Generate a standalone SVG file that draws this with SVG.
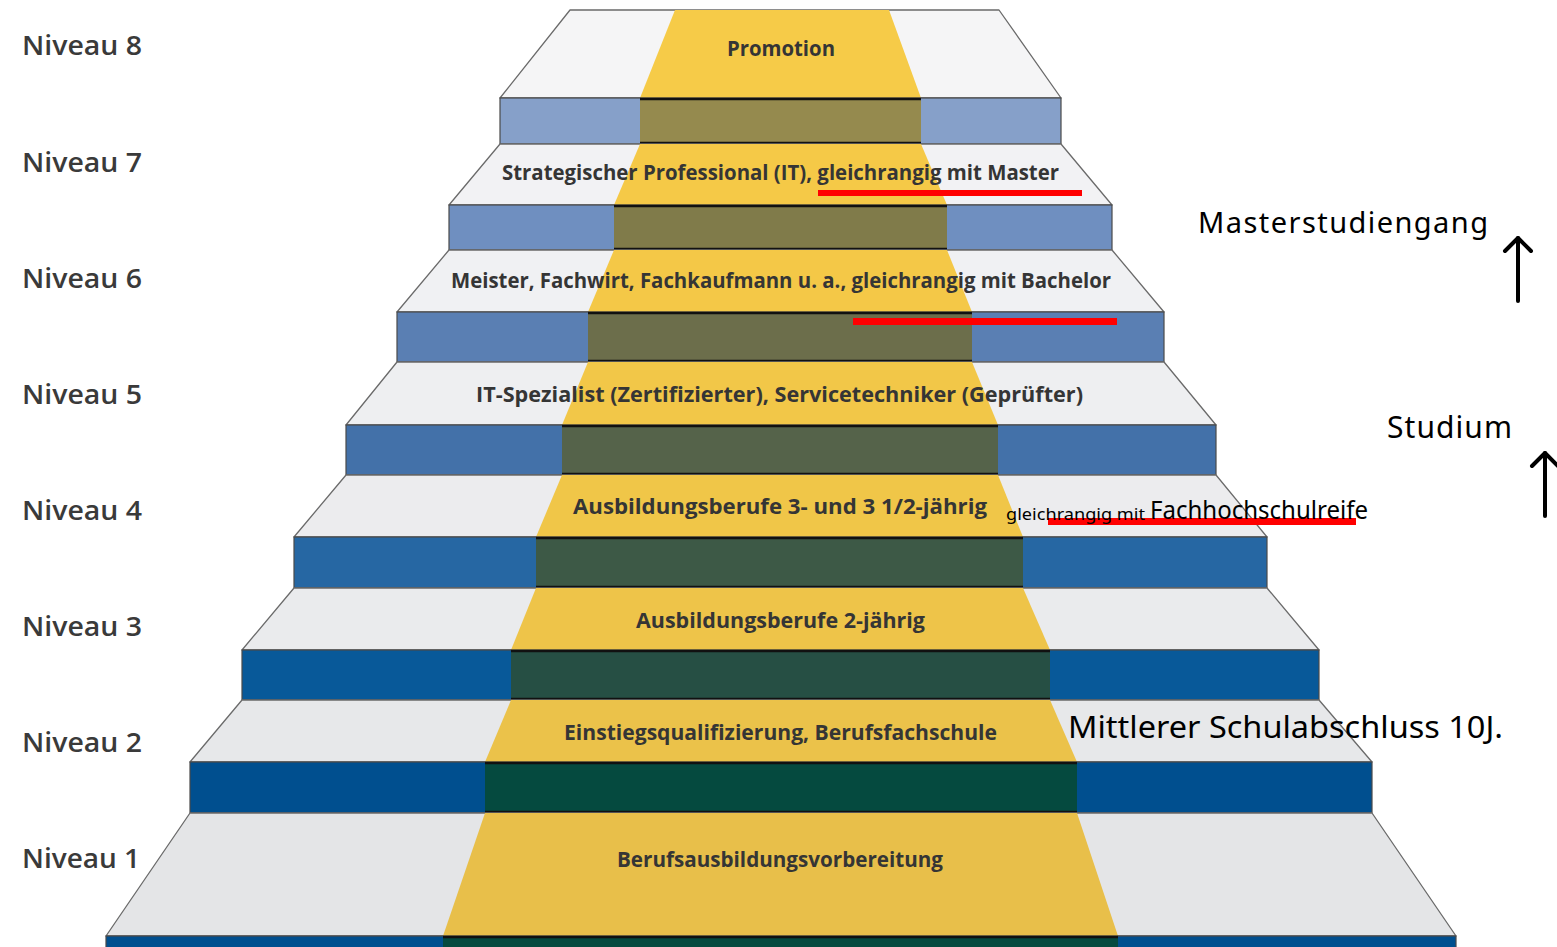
<svg xmlns="http://www.w3.org/2000/svg" width="1557" height="947" viewBox="0 0 1557 947">
<style>
.surf{stroke:#6a6a6a;stroke-width:1.3;stroke-linejoin:round}
.riser{stroke:#4a4a4a;stroke-width:1.2}
.dark{stroke:#111;stroke-width:2.5}
.step{font-family:"Open Sans","Noto Sans",sans-serif;font-weight:700;font-size:21px;fill:#353535;text-anchor:start}
.niv{font-family:"Open Sans","Noto Sans",sans-serif;font-weight:600;font-size:27px;fill:#3a3a3a}
.note{font-family:"Noto Sans","Open Sans",sans-serif;fill:#000}
.red{fill:#ff0000}
.arrow{stroke:#000;stroke-width:4;fill:none;stroke-linecap:round;stroke-linejoin:round}
</style>
<rect width="1557" height="947" fill="#ffffff"/>

<g id="niveau-labels">
<text class="niv" x="22" y="55" textLength="120" lengthAdjust="spacingAndGlyphs">Niveau 8</text>
<text class="niv" x="22" y="172" textLength="120" lengthAdjust="spacingAndGlyphs">Niveau 7</text>
<text class="niv" x="22" y="288" textLength="120" lengthAdjust="spacingAndGlyphs">Niveau 6</text>
<text class="niv" x="22" y="404" textLength="120" lengthAdjust="spacingAndGlyphs">Niveau 5</text>
<text class="niv" x="22" y="520" textLength="120" lengthAdjust="spacingAndGlyphs">Niveau 4</text>
<text class="niv" x="22" y="636" textLength="120" lengthAdjust="spacingAndGlyphs">Niveau 3</text>
<text class="niv" x="22" y="752" textLength="120" lengthAdjust="spacingAndGlyphs">Niveau 2</text>
<text class="niv" x="22" y="868" textLength="118" lengthAdjust="spacingAndGlyphs">Niveau 1</text>
</g>

<g id="stufe-8">
<polygon class="surf" points="570,10 999,10 1061,98 500,98" fill="#f5f5f6"/>
<polygon points="675,10 889,10 921,98 640,98" fill="#f6cb48"/>
<rect class="riser" x="500" y="98" width="561" height="46" fill="#86a0c9"/>
<rect x="640" y="98" width="281" height="46" fill="#958a4e"/>
<line class="dark" x1="640" y1="99" x2="921" y2="99"/>
<line class="dark" x1="640" y1="143" x2="921" y2="143"/>
<text class="step" x="727" y="56" textLength="108" lengthAdjust="spacingAndGlyphs">Promotion</text>
</g>

<g id="stufe-7">
<polygon class="surf" points="500,144 1061,144 1112,205 449,205" fill="#f2f2f4"/>
<polygon points="640,144 921,144 947,205 614,205" fill="#f5c947"/>
<rect class="riser" x="449" y="205" width="663" height="45" fill="#6f8fc0"/>
<rect x="614" y="205" width="333" height="45" fill="#807b4a"/>
<line class="dark" x1="614" y1="206" x2="947" y2="206"/>
<line class="dark" x1="614" y1="249" x2="947" y2="249"/>
<text class="step" x="502" y="180" textLength="557" lengthAdjust="spacingAndGlyphs">Strategischer Professional (IT), gleichrangig mit Master</text>
</g>

<g id="stufe-6">
<polygon class="surf" points="449,250 1112,250 1164,312 397,312" fill="#f0f1f3"/>
<polygon points="614,250 947,250 972,312 588,312" fill="#f4c847"/>
<rect class="riser" x="397" y="312" width="767" height="50" fill="#5a7fb3"/>
<rect x="588" y="312" width="384" height="50" fill="#6c6e4b"/>
<line class="dark" x1="588" y1="313" x2="972" y2="313"/>
<line class="dark" x1="588" y1="361" x2="972" y2="361"/>
<text class="step" x="451" y="288" textLength="660" lengthAdjust="spacingAndGlyphs">Meister, Fachwirt, Fachkaufmann u. a., gleichrangig mit Bachelor</text>
</g>

<g id="stufe-5">
<polygon class="surf" points="397,362 1164,362 1216,425 346,425" fill="#eeeff1"/>
<polygon points="588,362 972,362 998,425 562,425" fill="#f2c748"/>
<rect class="riser" x="346" y="425" width="870" height="50" fill="#4371a9"/>
<rect x="562" y="425" width="436" height="50" fill="#55634a"/>
<line class="dark" x1="562" y1="426" x2="998" y2="426"/>
<line class="dark" x1="562" y1="474" x2="998" y2="474"/>
<text class="step" x="476" y="402" textLength="607" lengthAdjust="spacingAndGlyphs">IT-Spezialist (Zertifizierter), Servicetechniker (Geprüfter)</text>
</g>

<g id="stufe-4">
<polygon class="surf" points="346,475 1216,475 1267,537 294,537" fill="#ececee"/>
<polygon points="562,475 998,475 1023,537 536,537" fill="#f0c648"/>
<rect class="riser" x="294" y="537" width="973" height="51" fill="#2667a3"/>
<rect x="536" y="537" width="487" height="51" fill="#3d5946"/>
<line class="dark" x1="536" y1="538" x2="1023" y2="538"/>
<line class="dark" x1="536" y1="587" x2="1023" y2="587"/>
<text class="step" x="573" y="514" textLength="414" lengthAdjust="spacingAndGlyphs">Ausbildungsberufe 3- und 3 1/2-jährig</text>
</g>

<g id="stufe-3">
<polygon class="surf" points="294,588 1267,588 1319,650 242,650" fill="#eaebed"/>
<polygon points="536,588 1023,588 1050,650 511,650" fill="#eec449"/>
<rect class="riser" x="242" y="650" width="1077" height="50" fill="#085999"/>
<rect x="511" y="650" width="539" height="50" fill="#264f44"/>
<line class="dark" x1="511" y1="651" x2="1050" y2="651"/>
<line class="dark" x1="511" y1="699" x2="1050" y2="699"/>
<text class="step" x="636" y="628" textLength="289" lengthAdjust="spacingAndGlyphs">Ausbildungsberufe 2-jährig</text>
</g>

<g id="stufe-2">
<polygon class="surf" points="242,700 1319,700 1372,762 190,762" fill="#e7e8ea"/>
<polygon points="511,700 1050,700 1077,762 485,762" fill="#ebc24a"/>
<rect class="riser" x="190" y="762" width="1182" height="51" fill="#004f8f"/>
<rect x="485" y="762" width="592" height="51" fill="#054a3f"/>
<line class="dark" x1="485" y1="763" x2="1077" y2="763"/>
<line class="dark" x1="485" y1="812" x2="1077" y2="812"/>
<text class="step" x="564" y="740" textLength="433" lengthAdjust="spacingAndGlyphs">Einstiegsqualifizierung, Berufsfachschule</text>
</g>

<g id="stufe-1">
<polygon class="surf" points="190,813 1372,813 1456,936 106,936" fill="#e4e5e7"/>
<polygon points="485,813 1077,813 1118,936 443,936" fill="#e8bf4a"/>
<rect class="riser" x="106" y="936" width="1350" height="20" fill="#004f8f"/>
<rect x="443" y="936" width="675" height="20" fill="#054a3f"/>
<line class="dark" x1="443" y1="937" x2="1118" y2="937"/>
<text class="step" x="617" y="867" textLength="326" lengthAdjust="spacingAndGlyphs">Berufsausbildungsvorbereitung</text>
</g>

<g id="annotations">
<rect class="red" x="818" y="190" width="264" height="6"/>
<rect class="red" x="853" y="318" width="264" height="7"/>
<rect class="red" x="1048" y="518" width="308" height="7"/>
<text class="note" x="1006" y="520" font-size="17" textLength="139" lengthAdjust="spacingAndGlyphs">gleichrangig mit</text>
<text class="note" x="1150" y="519" font-size="26" textLength="218" lengthAdjust="spacingAndGlyphs">Fachhochschulreife</text>
<text class="note" x="1068" y="738" font-size="31" textLength="435" lengthAdjust="spacingAndGlyphs">Mittlerer Schulabschluss 10J.</text>
<text class="note" x="1198" y="233" font-size="29" textLength="290" lengthAdjust="spacing">Masterstudiengang</text>
<text class="note" x="1387" y="438" font-size="30" textLength="125" lengthAdjust="spacing">Studium</text>
</g>

<g id="connectors">
<line class="arrow" x1="1518" y1="301" x2="1518" y2="238"/>
<polyline class="arrow" points="1505,251 1518,238 1531,251"/>
<line class="arrow" x1="1545" y1="516" x2="1545" y2="453"/>
<polyline class="arrow" points="1532,466 1545,453 1558,466"/>
</g>
</svg>
